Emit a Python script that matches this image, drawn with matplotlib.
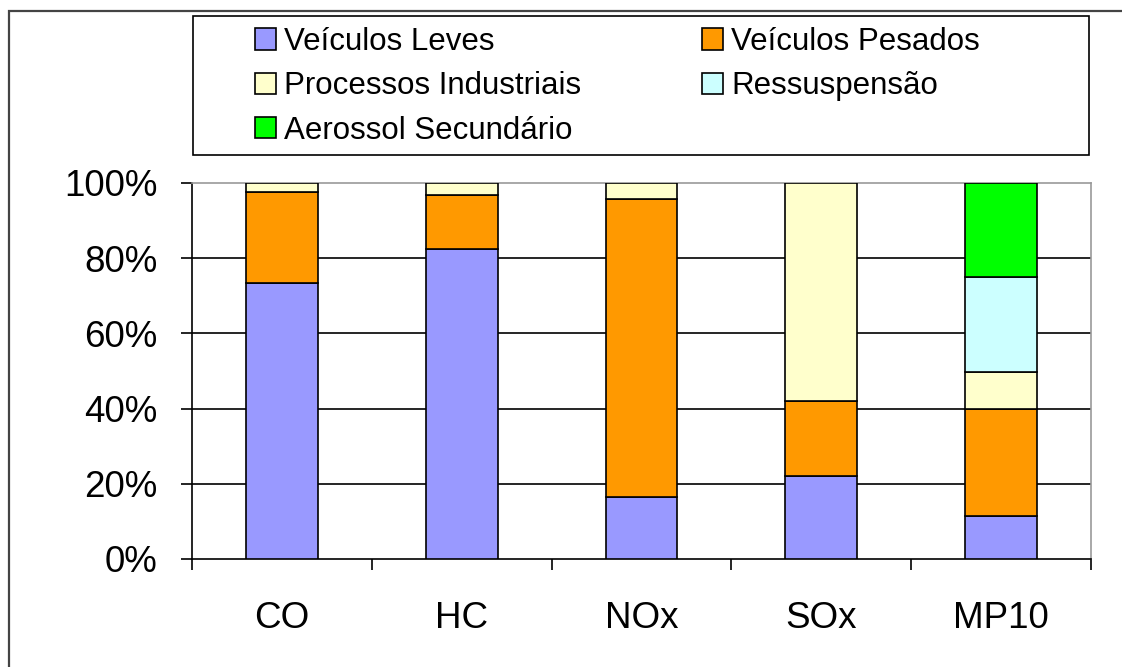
import matplotlib
matplotlib.use("Agg")
import matplotlib.pyplot as plt
from matplotlib.patches import Rectangle, Patch
import numpy as np

plt.rcParams['font.family'] = ['Liberation Sans', 'DejaVu Sans']

categories = ["CO", "HC", "NOx", "SOx", "MP10"]
series_names = ["Veículos Leves", "Veículos Pesados", "Processos Industriais",
                "Ressuspensão", "Aerossol Secundário"]
veiculos_leves = [73.3, 82.4, 16.4, 22.2, 11.5]
veiculos_pesados = [24.4, 14.3, 79.3, 19.7, 28.3]
processos_industriais = [2.3, 3.3, 4.3, 58.1, 10.0]
ressuspensao = [0.0, 0.0, 0.0, 0.0, 25.2]
aerossol_secundario = [0.0, 0.0, 0.0, 0.0, 25.0]
y_ticks = [0, 20, 40, 60, 80, 100]
y_tick_labels = ["0%", "20%", "40%", "60%", "80%", "100%"]

colors = ["#9999FF", "#FF9900", "#FFFFCC", "#CCFFFF", "#00FF00"]
series = [veiculos_leves, veiculos_pesados, processos_industriais,
          ressuspensao, aerossol_secundario]

W, H = 1122, 667
fig = plt.figure(figsize=(W / 100, H / 100), dpi=100)
fig.patch.set_facecolor("white")

# outer frame
fig.patches.append(Rectangle((9 / W, -0.05), 1.2, 1 - 11 / H + 0.05,
                             transform=fig.transFigure, fill=False,
                             edgecolor="#444444", linewidth=1.6))

ax = fig.add_axes([192 / W, 1 - 559 / H, (1091 - 192) / W, (559 - 183) / H])
x = np.arange(len(categories))
bottom = np.zeros(len(categories))
for vals, col in zip(series, colors):
    vals = np.array(vals, dtype=float)
    mask = vals > 0
    ax.bar(x[mask], vals[mask], width=0.4, bottom=bottom[mask], color=col,
           edgecolor="black", linewidth=1.2, zorder=3)
    bottom += vals

ax.set_xlim(-0.5, len(categories) - 0.5)
ax.set_ylim(0, 100)
ax.set_yticks(y_ticks)
ax.set_yticklabels(y_tick_labels)
ax.set_xticks(x)
ax.set_xticklabels(categories)
ax.set_xticks(np.arange(-0.5, len(categories)), minor=True)
ax.tick_params(axis="x", which="major", length=0, pad=30, labelsize=26.5)
ax.tick_params(axis="x", which="minor", length=8, width=1.2, direction="out")
ax.tick_params(axis="y", length=8, width=1.2, direction="out", pad=17, labelsize=26.5)

for yv in y_ticks[1:-1]:
    ax.axhline(yv, color="black", linewidth=1.2, zorder=1)

ax.spines["left"].set_linewidth(1.2)
ax.spines["bottom"].set_linewidth(1.2)
ax.spines["top"].set_color("#999999")
ax.spines["right"].set_color("#999999")
ax.spines["top"].set_linewidth(1.2)
ax.spines["right"].set_linewidth(1.2)

# legend box
fig.patches.append(Rectangle((193 / W, 1 - 155 / H), (1089 - 193) / W, (155 - 16) / H,
                             transform=fig.transFigure, fill=False,
                             edgecolor="black", linewidth=1.2))

handles = [Patch(facecolor=c, edgecolor="black", linewidth=1.2) for c in colors]
leg_kw = dict(frameon=False, fontsize=22.5, handlelength=0.67, handleheight=0.67,
              handletextpad=0.26, labelspacing=0.46, borderpad=0, borderaxespad=0,
              loc="upper left")
fig.legend([handles[0], handles[2], handles[4]],
           [series_names[0], series_names[2], series_names[4]],
           bbox_to_anchor=(255 / W, 1 - 27 / H), **leg_kw)
fig.legend([handles[1], handles[3]],
           [series_names[1], series_names[3]],
           bbox_to_anchor=(702 / W, 1 - 27 / H), **leg_kw)

fig.savefig("out.png", dpi=100)
